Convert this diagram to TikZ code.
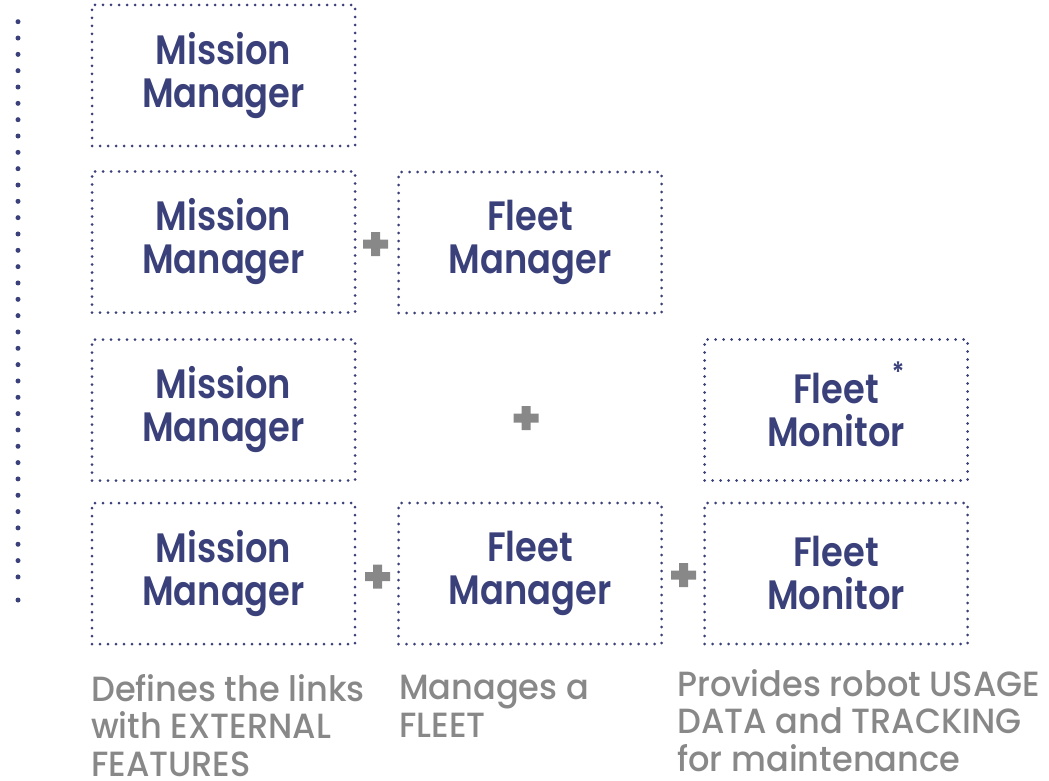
\documentclass[tikz,border=0pt]{standalone}
\usepackage{fontspec}
\setmainfont{Poppins}
\newfontfamily\titlefont{Poppins SemiBold}[FakeStretch=0.86]
\newfontfamily\notefont{Poppins Medium}[FakeStretch=0.96]
\usetikzlibrary{positioning}
\definecolor{navyblue}{HTML}{3A4079}
\definecolor{plusgray}{HTML}{888888}

\begin{document}
\begin{tikzpicture}[
        x=1pt, y=-1pt,
        module/.style={draw=navyblue, line width=3pt, dash pattern=on 0pt off 8pt,
            line cap=round, minimum width=263pt, minimum height=141pt, align=center,
            text=navyblue, font=\titlefont\fontsize{41}{43}\selectfont},
        caption/.style={anchor=base west, align=left, inner sep=0pt, text=plusgray,
            font=\notefont\fontsize{35}{37.3}\selectfont},
        plussign/.style={fill=plusgray}
    ]
        \useasboundingbox (0,0) rectangle (1049,781);
        % dotted rule on the left
        \draw[navyblue, line width=5pt, line cap=round, dash pattern=on 0pt off 16.33pt] (18,21.7) -- (18,578);
        \fill[navyblue] (18,600) circle (2.5pt);
        % modules
        \node[module] (mission1) at (223.5,75.5) {Mission\\Manager};
        \node[module] (mission2) at (223.5,242) {Mission\\Manager};
        \node[module] (fleet2) at (530,242.5) {Fleet\\Manager};
        \node[module] (mission3) at (223.5,410) {Mission\\Manager};
        \node[module] (monitor3) at (836,410) {Fleet\\Monitor};
        \node[text=navyblue, font=\titlefont\fontsize{28}{28}\selectfont] (star) at (898,372) {*};
        \node[module] (mission4) at (223.5,573.5) {Mission\\Manager};
        \node[module] (fleet4) at (530,573.5) {Fleet\\Manager};
        \node[module] (monitor4) at (836,573.5) {Fleet\\Monitor};
        % plus signs
        \fill[plussign, shift={(375.5,244)}] (-12.5,-4.5) rectangle (12.5,4.5) (-4.5,-12) rectangle (4.5,12);
        \fill[plussign, shift={(526,418)}] (-12.5,-4.5) rectangle (12.5,4.5) (-4.5,-12) rectangle (4.5,12);
        \fill[plussign, shift={(377.5,576.5)}] (-12.5,-4.5) rectangle (12.5,4.5) (-4.5,-12) rectangle (4.5,12);
        \fill[plussign, shift={(683.5,575)}] (-12.5,-4.5) rectangle (12.5,4.5) (-4.5,-12) rectangle (4.5,12);
        % captions (base = last line)
        \node[caption] (note1) at (91,776) {Defines the links\\with EXTERNAL\\FEATURES};
        \node[caption] (note2) at (399,737) {Manages a\\FLEET};
        \node[caption] (note3) at (677,771) {Provides robot USAGE\\DATA and TRACKING\\for maintenance};
    \end{tikzpicture}
\end{document}
